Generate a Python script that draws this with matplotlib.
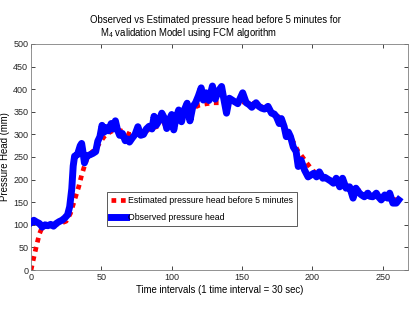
import matplotlib
matplotlib.use("Agg")
from matplotlib import pyplot as plt

plt.rcParams['font.family'] = ['Liberation Sans', 'DejaVu Sans']
plt.rcParams['mathtext.fontset'] = 'custom'
plt.rcParams['mathtext.rm'] = 'Liberation Sans'

# observed pressure head
x_obs = [0, 2, 4, 6, 8, 10, 12, 14, 16, 18, 20, 22, 24, 26, 27.5, 29, 30, 31, 33, 35,
         36, 37, 38, 39.5, 42, 44, 46, 47.5, 49, 50.5, 52, 53.5, 55, 57, 58.5, 60, 61.5,
         63, 65, 67, 68.5, 70, 72, 74, 76, 78, 80, 82, 84, 86, 87.5, 89, 91, 93, 95,
         96.5, 98, 100, 101.5, 103, 105, 107, 109, 111, 113, 115, 117, 119, 121, 122.5,
         124.5, 126.5, 129, 131, 133, 135.5, 137, 139, 141, 143, 145, 147, 150.5, 153,
         155, 157, 160, 162, 164, 166, 168.5, 171, 173, 174.5, 176.5, 178, 180, 181.5,
         183, 184.5, 186.5, 188.5, 190, 192, 194.5, 197, 199, 201, 203, 205, 207.5, 209,
         211, 213, 215, 217, 219.5, 221.5, 224, 226.5, 229, 231, 233.5, 235, 237, 239.5,
         241, 243, 245.5, 247, 249, 251.5, 253.5, 255, 257.3, 259.7, 261.4]
y_obs = [105, 110, 106, 103, 95, 100, 98, 101, 97, 103, 107, 110, 115, 122, 140, 180, 230,
         252, 255, 275, 280, 260, 237, 252, 255, 258, 262, 285, 295, 320, 305, 315, 308,
         324, 312, 330, 310, 298, 302, 286, 290, 283, 292, 300, 317, 298, 300, 312, 318,
         312, 340, 320, 330, 347, 335, 313, 330, 344, 310, 335, 354, 328, 354, 369, 330,
         361, 370, 385, 403, 376, 392, 375, 407, 378, 395, 406, 380, 347, 380, 376, 372,
         368, 392, 370, 366, 360, 370, 362, 358, 356, 362, 347, 345, 339, 324, 335, 317,
         295, 305, 295, 272, 262, 229, 243, 221, 206, 210, 214, 206, 217, 203, 205, 201,
         197, 192, 203, 184, 203, 181, 184, 159, 181, 170, 166, 162, 170, 163, 162, 170,
         162, 155, 166, 159, 170, 148, 148, 155]

# estimated pressure head before 5 minutes
x_est = [0, 2, 4, 6, 8, 10, 15, 20, 25, 28, 30, 32, 34, 36, 38, 40, 43, 46, 49, 52, 55,
         58, 62, 66, 70, 75, 80, 85, 90, 95, 100, 105, 110, 115, 120, 125, 130, 135, 140,
         145, 150, 155, 160, 165, 170, 174, 178, 181, 184, 187, 190, 193, 196, 199, 202,
         205, 210, 215, 220, 225, 230, 235, 240, 245, 250, 255, 260, 262]
y_est = [0, 28, 55, 80, 95, 100, 100, 102, 108, 125, 145, 165, 185, 210, 230, 248, 260,
         268, 282, 295, 303, 308, 310, 306, 300, 300, 305, 312, 318, 325, 333, 342, 350,
         358, 365, 368, 370, 370, 370, 371, 372, 370, 366, 360, 352, 345, 332, 315, 298,
         280, 262, 250, 237, 225, 215, 210, 203, 197, 192, 186, 180, 173, 168, 165, 161,
         158, 155, 154]

fig = plt.figure(figsize=(4.15, 3.12), dpi=100)
ax = fig.add_axes([0.0747, 0.1346, 0.9083, 0.7244])

ax.plot(x_est, y_est, color='red', linewidth=3.4, linestyle=(0, (1, 1)),
        label='Estimated pressure head before 5 minutes', zorder=2)
ax.plot(x_obs, y_obs, color='blue', linewidth=5, solid_joinstyle='round',
        label='Observed pressure head', zorder=3)

ax.set_xlim(0, 268)
ax.set_ylim(0, 500)
ax.set_xticks([0, 50, 100, 150, 200, 250])
ax.set_yticks(range(0, 501, 50))
ax.tick_params(direction='in', length=3, width=0.6, labelsize=6.5, colors='#262626',
               top=True, right=True, pad=2)
for s in ax.spines.values():
    s.set_color('#808080')
    s.set_linewidth(0.6)

ax.set_xlabel('Time intervals (1 time interval = 30 sec)', fontsize=6.9, labelpad=2)
ax.set_ylabel('Pressure Head (mm)', fontsize=6.9)
ax.yaxis.set_label_coords(-21 / 377, 0.5)

fig.text(215 / 415, 1 - 20 / 312, 'Observed vs Estimated pressure head before 5 minutes for',
         ha='center', va='center', fontsize=6.9)
fig.text(189 / 415, 1 - 33 / 312, r'M$_4$ validation Model using FCM algorithm',
         ha='center', va='center', fontsize=6.9)

leg = ax.legend(loc='upper left', bbox_to_anchor=(0.201, 0.346), fontsize=6.3,
                frameon=True, fancybox=False, edgecolor='#404040', framealpha=1,
                handlelength=1.7, handletextpad=0.3, borderpad=0.45, labelspacing=1.0,
                borderaxespad=0)
leg.get_frame().set_linewidth(0.6)

fig.savefig('out.png', dpi=100)
